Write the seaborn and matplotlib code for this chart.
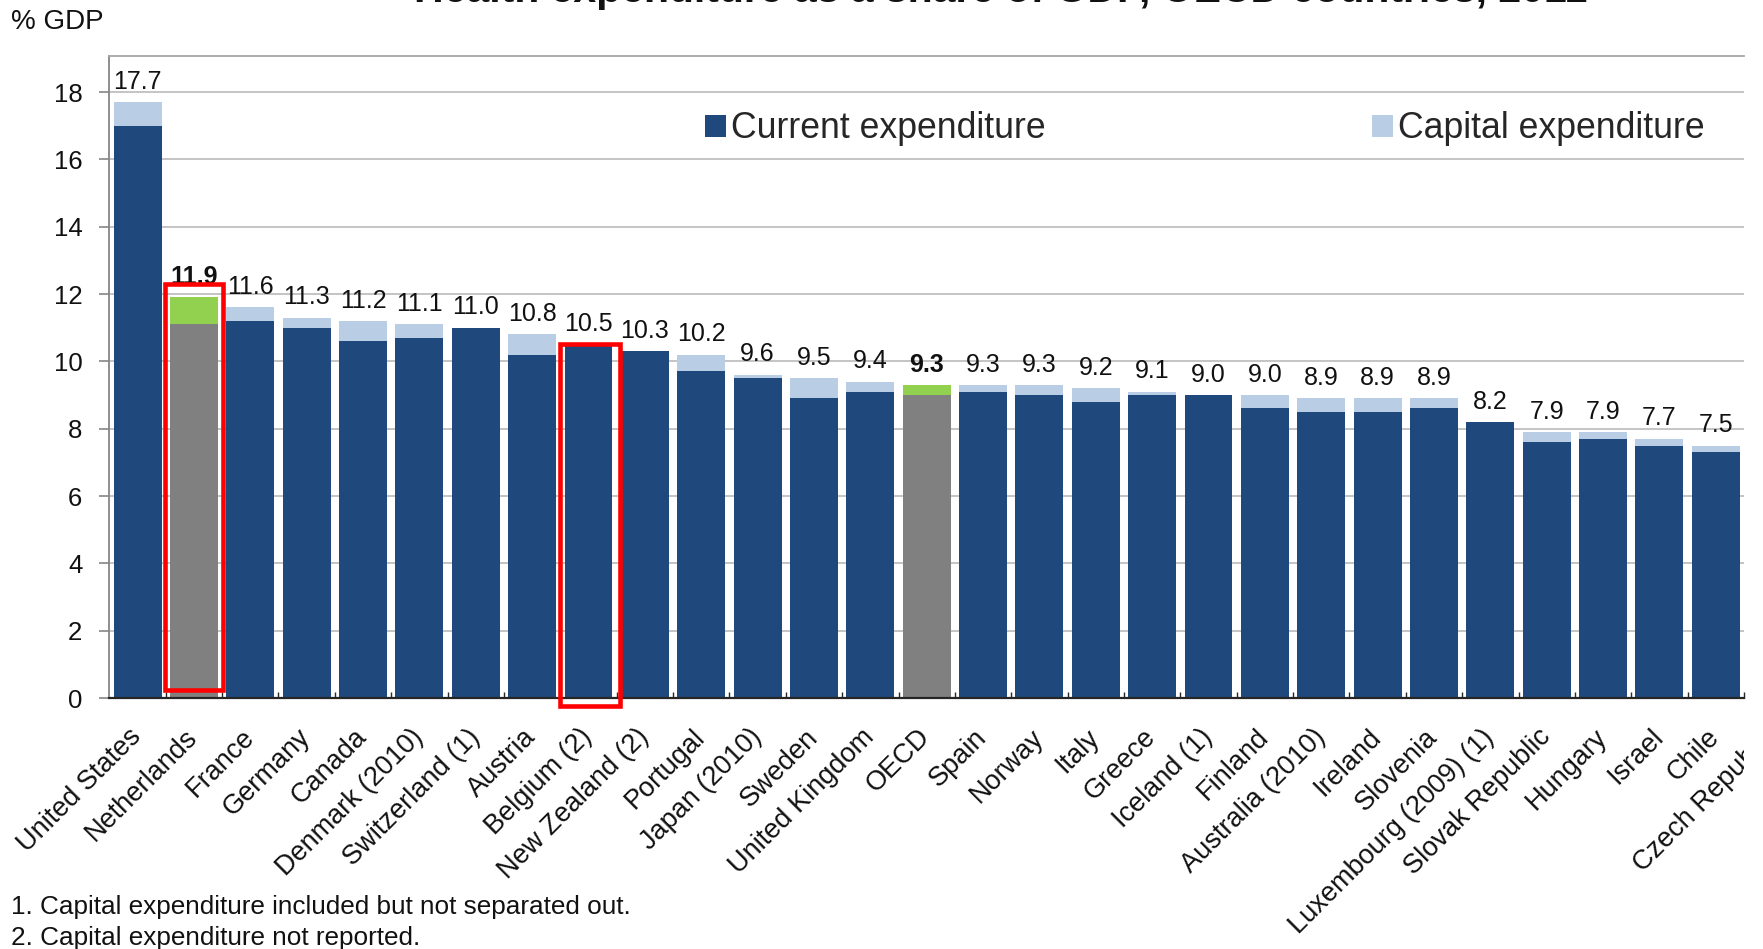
import matplotlib
matplotlib.use("Agg")
import matplotlib.pyplot as plt
from matplotlib.patches import Patch, Rectangle
from matplotlib.transforms import Bbox, TransformedBbox, blended_transform_factory, ScaledTranslation
import seaborn as sns
import pandas as pd

# Health expenditure as a share of GDP, 2011
countries = [
    "United States", "Netherlands", "France", "Germany", "Canada",
    "Denmark (2010)", "Switzerland (1)", "Austria", "Belgium (2)", "New Zealand (2)",
    "Portugal", "Japan (2010)", "Sweden", "United Kingdom", "OECD",
    "Spain", "Norway", "Italy", "Greece", "Iceland (1)",
    "Finland", "Australia (2010)", "Ireland", "Slovenia", "Luxembourg (2009) (1)",
    "Slovak Republic", "Hungary", "Israel", "Chile", "Czech Republic",
]
current_exp = [17.0, 11.1, 11.2, 11.0, 10.6, 10.7, 11.0, 10.2, 10.5, 10.3,
               9.7, 9.5, 8.9, 9.1, 9.0, 9.1, 9.0, 8.8, 9.0, 9.0,
               8.6, 8.5, 8.5, 8.6, 8.2, 7.6, 7.7, 7.5, 7.3, 7.1]
capital_exp = [0.7, 0.8, 0.4, 0.3, 0.6, 0.4, 0.0, 0.6, 0.0, 0.0,
               0.5, 0.1, 0.6, 0.3, 0.3, 0.2, 0.3, 0.4, 0.1, 0.0,
               0.4, 0.4, 0.4, 0.3, 0.0, 0.3, 0.2, 0.2, 0.2, 0.4]
highlighted = ["Netherlands", "OECD"]
boxed = ["Netherlands", "Belgium (2)"]
footnotes = ["1. Capital expenditure included but not separated out.",
             "2. Capital expenditure not reported."]

DARK = "#1F497C"
LIGHT = "#B9CDE5"
GREY = "#808080"
GREEN = "#92D050"

sns.set_style("white")
plt.rcParams["font.family"] = ["Liberation Sans", "DejaVu Sans"]

df = pd.DataFrame({"country": countries, "current": current_exp, "capital": capital_exp})
df["total"] = (df["current"] + df["capital"]).round(1)

cur_pal = {c: (GREY if c in highlighted else DARK) for c in countries}
cap_pal = {c: (GREEN if c in highlighted else LIGHT) for c in countries}

W, H = 1763, 949
fig = plt.figure(figsize=(W / 100, H / 100), dpi=100)
ax_left, ax_right, ax_top, ax_bottom = 109, 1744, 56, 698
ax = fig.add_axes([ax_left / W, 1 - ax_bottom / H, (ax_right - ax_left) / W, (ax_bottom - ax_top) / H])

bar_w = 0.85
sns.barplot(data=df, x="country", y="total", hue="country", palette=cap_pal,
            order=countries, hue_order=countries, width=bar_w, saturation=1,
            legend=False, linewidth=0, ax=ax, zorder=2)
sns.barplot(data=df, x="country", y="current", hue="country", palette=cur_pal,
            order=countries, hue_order=countries, width=bar_w, saturation=1,
            legend=False, linewidth=0, ax=ax, zorder=3)

ax.set_xlim(-0.507, 28.40)
ax.set_ylim(0, 19.07)
ax.set_xlabel("")
ax.set_ylabel("")

# grid and spines
ax.set_yticks(range(0, 19, 2))
ax.yaxis.grid(True, color="#BFBFBF", linewidth=1.3, zorder=0)
ax.set_axisbelow(True)
ax.spines["right"].set_visible(False)
ax.spines["top"].set_color("#A6A6A6")
ax.spines["top"].set_linewidth(1.3)
ax.spines["left"].set_color("#868686")
ax.spines["left"].set_linewidth(1.3)
ax.spines["bottom"].set_color("#262626")
ax.spines["bottom"].set_linewidth(1.6)
ax.spines["bottom"].set_zorder(5)
ax.tick_params(axis="y", direction="out", length=7.2, width=1.2, color="#868686",
               pad=12, labelsize=18.5, labelcolor="#111111", left=True)

# category ticks between bars, labels drawn separately
ax.set_xticks([i + 0.5 for i in range(len(countries) - 1)])
ax.set_xticklabels([])
ax.tick_params(axis="x", direction="in", length=4, width=1.0, color="#262626", bottom=True)

clip = TransformedBbox(Bbox.from_extents(0, 0, ax_right / W, 1), fig.transFigure)
lab_tr = blended_transform_factory(ax.transData, ax.transAxes) + \
    ScaledTranslation(0, -26 / 100, fig.dpi_scale_trans)
for i, c in enumerate(countries):
    t = ax.text(i + 0.16, 0, c, transform=lab_tr, rotation=45, ha="right", va="top",
                fontsize=19.5, color="#111111")
    t.set_clip_box(clip)
    t.set_clip_on(True)

# value labels
for i, row in df.iterrows():
    bold = row["country"] in highlighted
    a = ax.annotate(f"{row['total']:.1f}", xy=(i, row["total"]), xytext=(0, 9.6),
                    textcoords="offset points", ha="center", va="baseline",
                    fontsize=18, color="#111111",
                    fontweight="bold" if bold else "normal", zorder=6)
    a.set_clip_box(clip)
    a.set_clip_on(True)

# red outline boxes
for c in boxed:
    i = countries.index(c)
    top = df.loc[i, "total"] + (0.40 if c == "Netherlands" else 0.02)
    bottom = 0.23 if c == "Netherlands" else -0.23
    dx0, dx1 = (-0.517, 0.507) if c == "Netherlands" else (-0.50, 0.56)
    ax.add_patch(Rectangle((i + dx0, bottom), dx1 - dx0, top - bottom, fill=False,
                           edgecolor="#FF0000", linewidth=3.3, clip_on=False, zorder=7))

# legend
leg_kw = dict(loc="center left", bbox_transform=fig.transFigure, frameon=False,
              fontsize=25.7, handlelength=0.58, handleheight=0.58, handletextpad=0.15,
              borderpad=0, borderaxespad=0)
leg1 = ax.legend(handles=[Patch(facecolor=DARK, edgecolor="none")], labels=["Current expenditure"],
                 bbox_to_anchor=(705 / W, 1 - 129 / H), **leg_kw)
ax.add_artist(leg1)
ax.legend(handles=[Patch(facecolor=LIGHT, edgecolor="none")], labels=["Capital expenditure"],
          bbox_to_anchor=(1372 / W, 1 - 129 / H), **leg_kw)

# title, unit and notes
fig.text(414 / W, 1 - 2 / H, "Health expenditure as a share of GDP, OECD countries, 2011",
         ha="left", va="baseline", fontsize=29.5, fontweight="bold", color="#111111")
fig.text(11 / W, 1 - 22 / H, "% GDP", ha="left", va="center", fontsize=20, color="#111111")
fig.text(11 / W, 1 - 907 / H, footnotes[0], ha="left", va="center", fontsize=18.8, color="#111111")
fig.text(11 / W, 1 - 938 / H, footnotes[1], ha="left", va="center", fontsize=18.8, color="#111111")

fig.savefig("out.png", dpi=100)
